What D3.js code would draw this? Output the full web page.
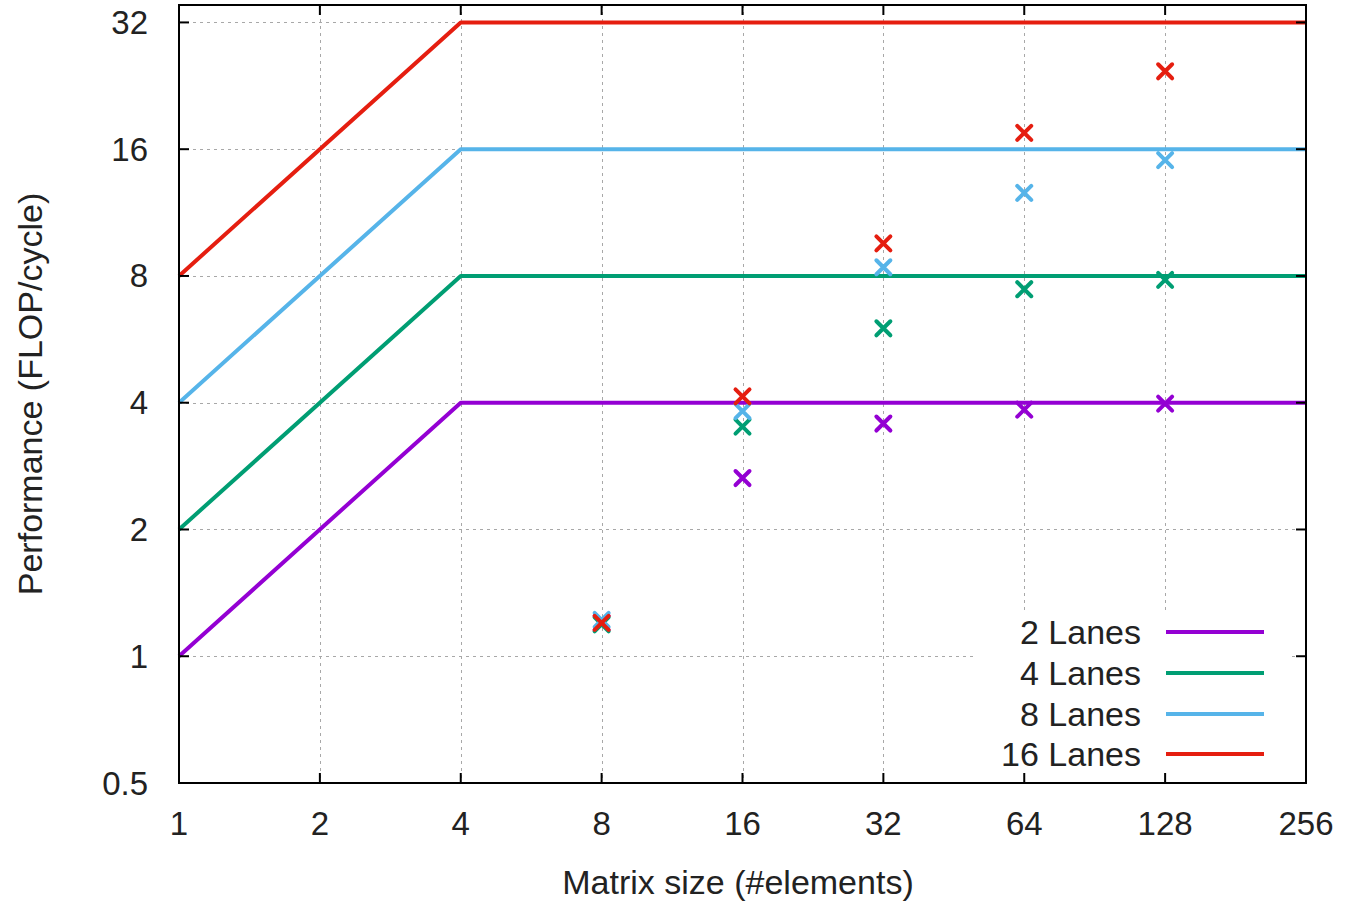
<!DOCTYPE html>
<html>
<head>
<meta charset="utf-8">
<script src="https://cdn.jsdelivr.net/npm/d3@7"></script>
<style>
  html, body { margin: 0; padding: 0; background: #fff; }
  svg { display: block; }
  text { font-family: "Liberation Sans", Arial, sans-serif; fill: #222; }
</style>
</head>
<body>
<svg id="chart" width="1355" height="902"></svg>
<script>
// Matrix sizes and tick values
const xTicks = [1, 2, 4, 8, 16, 32, 64, 128, 256];
const yTicks = [0.5, 1, 2, 4, 8, 16, 32];

// Series
const laneLabels = ["2 Lanes", "4 Lanes", "8 Lanes", "16 Lanes"];
const laneColors = ["#9400d3", "#009e73", "#56b4e9", "#e51e10"];

// Theoretical peak (roofline) breakpoints
const rooflineX = [1, 4, 256];
const roof2 = [1, 4, 4];
const roof4 = [2, 8, 8];
const roof8 = [4, 16, 16];
const roof16 = [8, 32, 32];

// Measured performance
const sizes = [8, 16, 32, 64, 128];
const measured2 = [1.20, 2.65, 3.57, 3.85, 3.98];
const measured4 = [1.19, 3.51, 6.01, 7.44, 7.83];
const measured8 = [1.22, 3.82, 8.39, 12.6, 15.07];
const measured16 = [1.20, 4.14, 9.56, 17.5, 24.5];

const roofs = [roof2, roof4, roof8, roof16];
const measured = [measured2, measured4, measured8, measured16];

const svg = d3.select("#chart");
const plotL = 179, plotR = 1306, plotT = 5, plotB = 783;

const x = d3.scaleLog().base(2).domain([1, 256]).range([plotL, plotR]);
const y = d3.scaleLog().base(2).domain([0.5, 35.2]).range([plotB, plotT]);

// Grid
const grid = svg.append("g").attr("stroke", "#a8a8a8").attr("stroke-width", 1)
  .attr("stroke-dasharray", "3,4");
grid.selectAll("line.gx").data(xTicks.slice(1, -1)).join("line")
  .attr("x1", d => Math.round(x(d)) + 0.5).attr("x2", d => Math.round(x(d)) + 0.5)
  .attr("y1", plotT).attr("y2", plotB);
grid.selectAll("line.gy").data(yTicks.slice(1)).join("line")
  .attr("y1", d => Math.round(y(d)) + 0.5).attr("y2", d => Math.round(y(d)) + 0.5)
  .attr("x1", plotL).attr("x2", plotR);

// Legend background (drawn over the grid)
svg.append("rect").attr("x", 973).attr("y", 613).attr("width", 316).attr("height", 162)
  .attr("fill", "#fff");

// Roofline lines
const line = d3.line().x(d => x(d[0])).y(d => y(d[1]));
roofs.forEach((r, i) => {
  svg.append("path")
    .datum(rooflineX.map((v, j) => [v, r[j]]))
    .attr("d", line)
    .attr("fill", "none")
    .attr("stroke", laneColors[i])
    .attr("stroke-width", 4)
    .attr("stroke-linejoin", "round");
});

// Measured points as crosses
const s = 7;
measured.forEach((m, i) => {
  const g = svg.append("g").attr("stroke", laneColors[i]).attr("stroke-width", 4)
    .attr("stroke-linecap", "round");
  g.selectAll("path").data(sizes.map((v, j) => [v, m[j]])).join("path")
    .attr("d", d => {
      const cx = x(d[0]), cy = y(d[1]);
      return `M${cx - s},${cy - s}L${cx + s},${cy + s}M${cx - s},${cy + s}L${cx + s},${cy - s}`;
    });
});

// Border
svg.append("rect").attr("x", plotL).attr("y", plotT)
  .attr("width", plotR - plotL).attr("height", plotB - plotT)
  .attr("fill", "none").attr("stroke", "#000").attr("stroke-width", 2);

// Ticks (mirrored on all sides)
const tk = svg.append("g").attr("stroke", "#000").attr("stroke-width", 2);
const tl = 10;
xTicks.forEach(v => {
  const px = x(v);
  tk.append("line").attr("x1", px).attr("x2", px).attr("y1", plotB).attr("y2", plotB - tl);
  tk.append("line").attr("x1", px).attr("x2", px).attr("y1", plotT).attr("y2", plotT + tl);
});
yTicks.forEach(v => {
  const py = y(v);
  tk.append("line").attr("y1", py).attr("y2", py).attr("x1", plotL).attr("x2", plotL + tl);
  tk.append("line").attr("y1", py).attr("y2", py).attr("x1", plotR).attr("x2", plotR - tl);
});

// Tick labels
const tickFs = 33, fs = 34;
svg.append("g").selectAll("text").data(xTicks).join("text")
  .attr("x", d => x(d)).attr("y", 835)
  .attr("text-anchor", "middle").attr("font-size", tickFs)
  .text(d => d);
svg.append("g").selectAll("text").data(yTicks).join("text")
  .attr("x", 148).attr("y", d => y(d) + 11.5)
  .attr("text-anchor", "end").attr("font-size", tickFs)
  .text(d => d);

// Axis titles
svg.append("text").attr("x", 738).attr("y", 894)
  .attr("text-anchor", "middle").attr("font-size", fs)
  .text("Matrix size (#elements)");
svg.append("text")
  .attr("transform", "translate(42,394) rotate(-90)")
  .attr("text-anchor", "middle").attr("font-size", fs)
  .text("Performance (FLOP/cycle)");

// Legend
const legendY = [632, 673, 714, 754];
laneLabels.forEach((lab, i) => {
  svg.append("text").attr("x", 1141).attr("y", legendY[i] + 11.5)
    .attr("text-anchor", "end").attr("font-size", fs).text(lab);
  svg.append("line").attr("x1", 1166).attr("x2", 1264)
    .attr("y1", legendY[i]).attr("y2", legendY[i])
    .attr("stroke", laneColors[i]).attr("stroke-width", 4);
});
</script>
</body>
</html>
